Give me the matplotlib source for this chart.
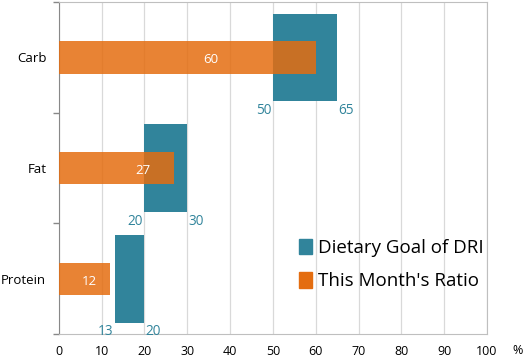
import numpy as np
import matplotlib
matplotlib.use("Agg")
import matplotlib.pyplot as plt
from matplotlib.patches import Patch

plt.rcParams['font.family'] = ['Open Sans', 'DejaVu Sans']

# data
nutrients = ['Carb', 'Fat', 'Protein']
goal_low = [50, 20, 13]
goal_high = [65, 30, 20]
month_ratio = [60, 27, 12]
label_frac = [0.59, 0.73, 0.6]  # where the white value sits inside the orange bar

teal = '#31849B'
orange = '#E46D10'

fig = plt.figure(figsize=(5.30, 3.62), dpi=100)
ax = fig.add_axes([0.111, 0.077, 0.808, 0.917])

y = np.arange(len(nutrients))
widths = [h - l for l, h in zip(goal_low, goal_high)]

ax.barh(y, widths, left=goal_low, height=0.79, color=teal, zorder=2)
ax.barh(y, month_ratio, height=0.29, color=orange, alpha=0.85, zorder=3)

for i in range(len(nutrients)):
    ax.text(goal_low[i] - 0.3, y[i] + 0.41, str(goal_low[i]), color=teal,
            ha='right', va='top', fontsize=9.8)
    ax.text(goal_high[i] + 0.3, y[i] + 0.41, str(goal_high[i]), color=teal,
            ha='left', va='top', fontsize=9.8)
    ax.text(month_ratio[i] * label_frac[i], y[i] + 0.02, str(month_ratio[i]),
            color='white', ha='center', va='center', fontsize=9.5, zorder=4)

ax.set_xlim(0, 100)
ax.set_ylim(2.5, -0.5)
ax.set_xticks(np.arange(0, 101, 10))
ax.set_xticklabels([str(v) for v in range(0, 101, 10)], fontsize=9)
ax.tick_params(axis='x', length=0, pad=8)
ax.grid(axis='x', color='#d9d9d9', linewidth=0.9, zorder=0)

ax.set_yticks(y)
ax.set_yticklabels(nutrients, fontsize=9.5)
ax.tick_params(axis='y', which='major', length=0, pad=9)
ax.set_yticks([-0.5, 0.5, 1.5, 2.5], minor=True)
ax.tick_params(axis='y', which='minor', length=4, color='#888888', width=1)

for s in ['top', 'right', 'bottom']:
    ax.spines[s].set_color('#bfbfbf')
ax.spines['left'].set_color('#888888')

fig.text(0.976, 0.033, '%', fontsize=9, ha='center', va='center')

handles = [Patch(color=teal), Patch(color=orange)]
ax.legend(handles, ['Dietary Goal of DRI', "This Month's Ratio"],
          loc='upper left', bbox_to_anchor=(0.543, 0.31), frameon=False,
          fontsize=13.5, handlelength=0.7, handleheight=0.9, handletextpad=0.3,
          labelspacing=0.8, borderaxespad=0)

fig.savefig('out.png', dpi=100)
